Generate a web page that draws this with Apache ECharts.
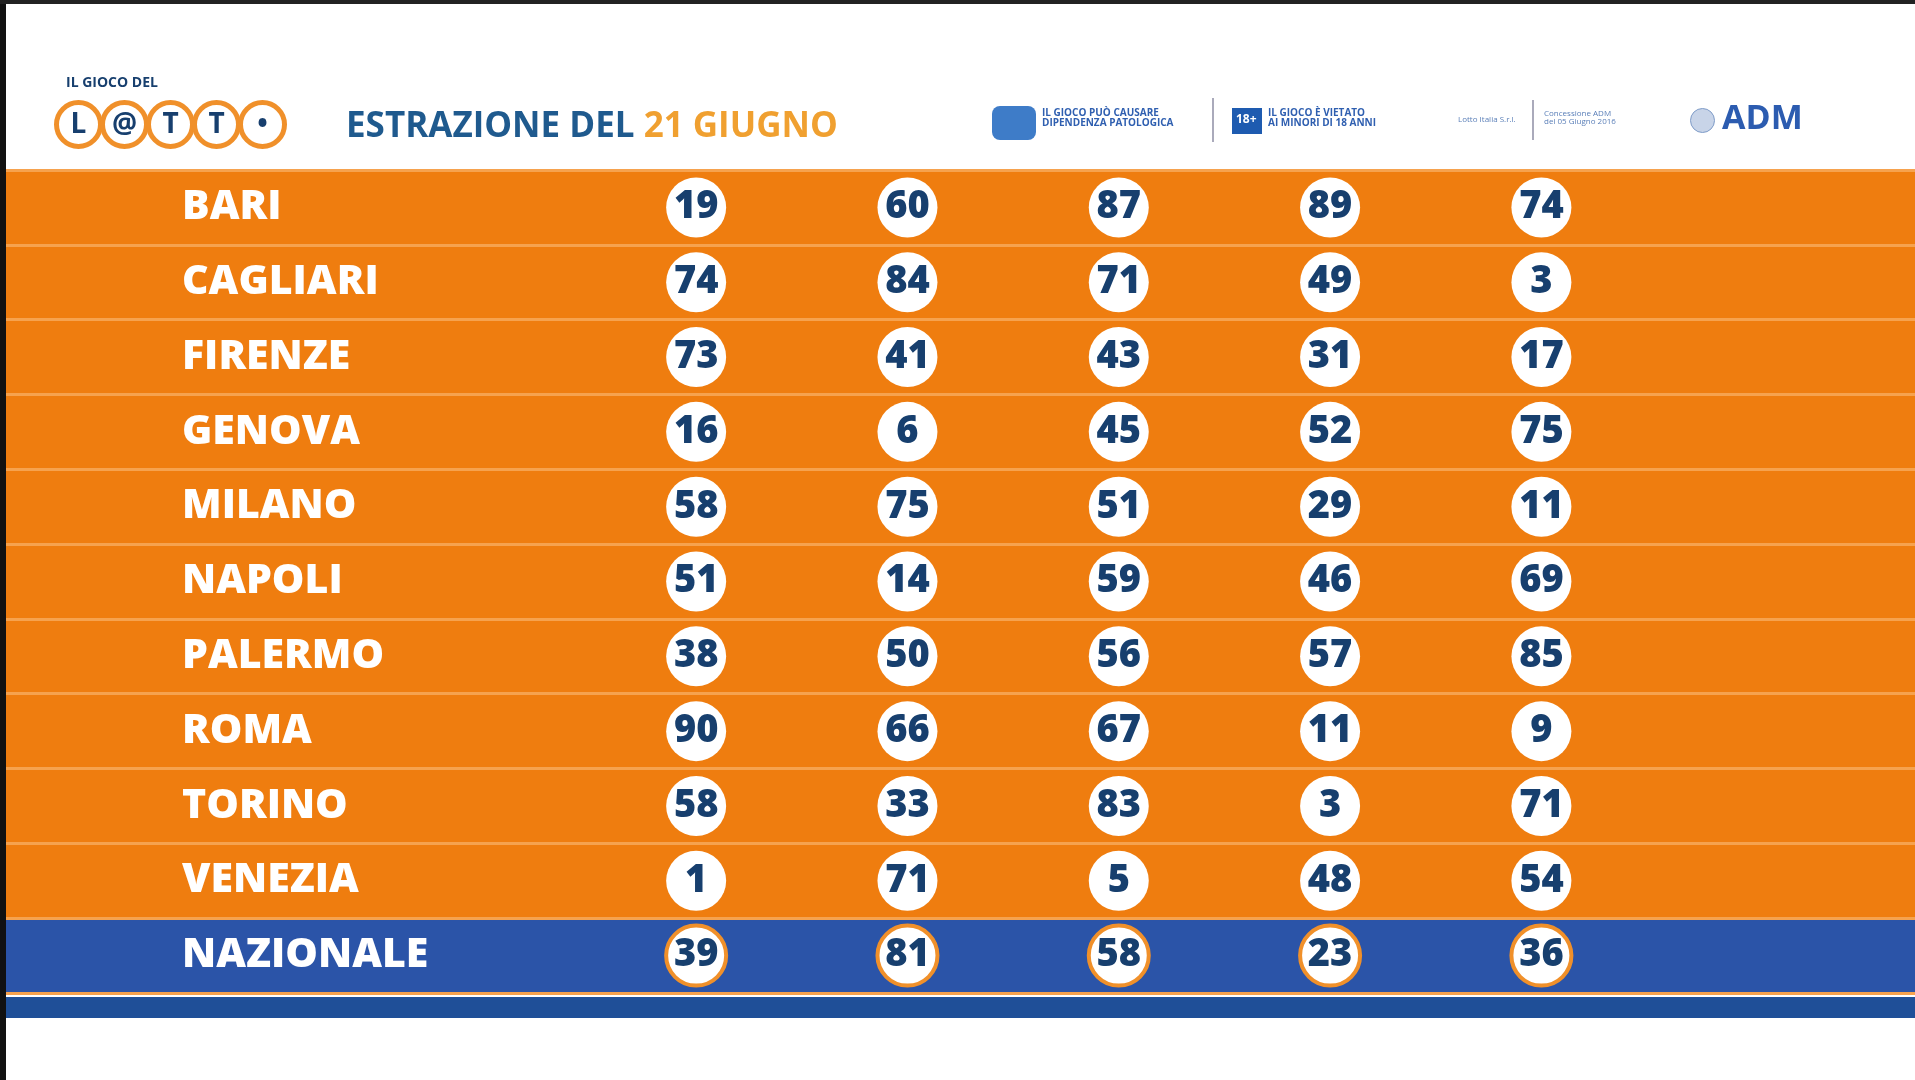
<!DOCTYPE html>
<html>
<head>
<meta charset="utf-8">
<script src="https://cdn.jsdelivr.net/npm/echarts@6/dist/echarts.min.js"></script>
<style>
  html, body { margin: 0; padding: 0; background: #fff; }
  #main { width: 1915px; height: 1080px; }
</style>
</head>
<body>
<div id="main"></div>
<script>
// lotto draw, 21 giugno
const cities = ['BARI', 'CAGLIARI', 'FIRENZE', 'GENOVA', 'MILANO', 'NAPOLI', 'PALERMO', 'ROMA', 'TORINO', 'VENEZIA', 'NAZIONALE']
const positions = [1, 2, 3, 4, 5]
const numbers = [
  [19, 60, 87, 89, 74],
  [74, 84, 71, 49, 3],
  [73, 41, 43, 31, 17],
  [16, 6, 45, 52, 75],
  [58, 75, 51, 29, 11],
  [51, 14, 59, 46, 69],
  [38, 50, 56, 57, 85],
  [90, 66, 67, 11, 9],
  [58, 33, 83, 3, 71],
  [1, 71, 5, 48, 54],
  [39, 81, 58, 23, 36]
]

const orange = '#ef7d0f'
const blue = '#2b54a8'
const navy = '#173f6e'

let points = []
numbers.forEach((row, r) => {
  row.forEach((n, c) => {
    const naz = cities[r] === 'NAZIONALE'
    points.push({
      value: [positions[c], cities[r], n],
      itemStyle: {
        color: '#fff',
        opacity: 1,
        borderColor: naz ? '#f0902a' : '#fff',
        borderWidth: naz ? 4 : 0
      }
    })
  })
})

const bandColors = cities.map(c => c === 'NAZIONALE' ? blue : orange)

// logo balls for "LOTTO"
const logoLetters = ['L', '@', 'T', 'T', '•']
let logo = logoLetters.map((ch, i) => ({
  type: 'group',
  left: 54 + i * 46,
  top: 100,
  children: [
    { type: 'circle', shape: { cx: 22, cy: 24, r: 22 }, style: { fill: '#fff', stroke: '#f0902a', lineWidth: 5 } },
    { type: 'text', style: { x: 22, y: 25, text: ch, fill: navy, font: 'bold 28px "Open Sans"', align: 'center', verticalAlign: 'middle' } }
  ]
}))

const chart = echarts.init(document.getElementById('main'))
chart.setOption({
  backgroundColor: '#fff',
  animation: false,
  grid: { left: 6, right: 0, top: 170, height: 823 },
  xAxis: {
    type: 'value', min: -2.266, max: 6.768,
    show: false
  },
  yAxis: {
    type: 'category', data: cities, inverse: true,
    axisLine: { show: false }, axisTick: { show: false },
    axisLabel: {
      inside: true, margin: 176, color: '#fff',
      fontFamily: 'Open Sans', fontWeight: 800, fontSize: 41
    },
    splitArea: { show: true, areaStyle: { color: bandColors } },
    splitLine: { show: true, lineStyle: { color: '#f6a24e', width: 3 } }
  },
  series: [{
    type: 'scatter',
    data: points,
    symbolSize: 60,
    label: {
      show: true, position: 'inside',
      formatter: p => p.value[2],
      color: navy, fontFamily: 'Open Sans', fontWeight: 800, fontSize: 38
    }
  }],
  graphic: [
    { type: 'rect', left: 0, top: 997, shape: { width: 1915, height: 21 }, style: { fill: '#1f4f98' } },
    { type: 'rect', left: 0, top: 0, shape: { width: 6, height: 1080 }, style: { fill: '#111' } },
    { type: 'rect', left: 0, top: 0, shape: { width: 1915, height: 4 }, style: { fill: '#222' } },
    { type: 'text', left: 66, top: 76, style: { text: 'IL GIOCO DEL', fill: navy, font: 'bold 14px "Open Sans"' } },
    ...logo,
    {
      type: 'text', left: 346, top: 110,
      style: {
        text: '{a|ESTRAZIONE DEL }{b|21 GIUGNO}',
        rich: {
          a: { fill: '#1f5a8e', font: 'bold 35px "Open Sans"' },
          b: { fill: '#f0a030', font: 'bold 35px "Open Sans"' }
        }
      }
    },
    { type: 'rect', left: 992, top: 106, shape: { width: 44, height: 34, r: 8 }, style: { fill: '#3e7cc8' } },
    { type: 'text', left: 1042, top: 108, style: { text: 'IL GIOCO PUÒ CAUSARE\nDIPENDENZA PATOLOGICA', fill: '#2f5fb0', font: 'bold 10px "Open Sans"' } },
    { type: 'rect', left: 1212, top: 98, shape: { width: 2, height: 44 }, style: { fill: '#aab' } },
    { type: 'rect', left: 1232, top: 108, shape: { width: 30, height: 26 }, style: { fill: '#1e5bb0' } },
    { type: 'text', left: 1236, top: 114, style: { text: '18+', fill: '#fff', font: 'bold 12px "Open Sans"' } },
    { type: 'text', left: 1268, top: 108, style: { text: 'IL GIOCO È VIETATO\nAI MINORI DI 18 ANNI', fill: '#2f5fb0', font: 'bold 10px "Open Sans"' } },
    { type: 'text', left: 1458, top: 116, style: { text: 'Lotto Italia S.r.l.', fill: '#5a7fb8', font: '8px "Open Sans"' } },
    { type: 'rect', left: 1532, top: 100, shape: { width: 2, height: 40 }, style: { fill: '#aab' } },
    { type: 'text', left: 1544, top: 110, style: { text: 'Concessione ADM\ndel 05 Giugno 2016', fill: '#5a7fb8', font: '8px "Open Sans"' } },
    { type: 'circle', left: 1690, top: 108, shape: { r: 12 }, style: { fill: '#c8d4e8', stroke: '#7f9cc8' } },
    { type: 'text', left: 1722, top: 102, style: { text: 'ADM', fill: '#2c5cb0', font: 'bold 34px "Open Sans"' } }
  ]
})
</script>
</body>
</html>
